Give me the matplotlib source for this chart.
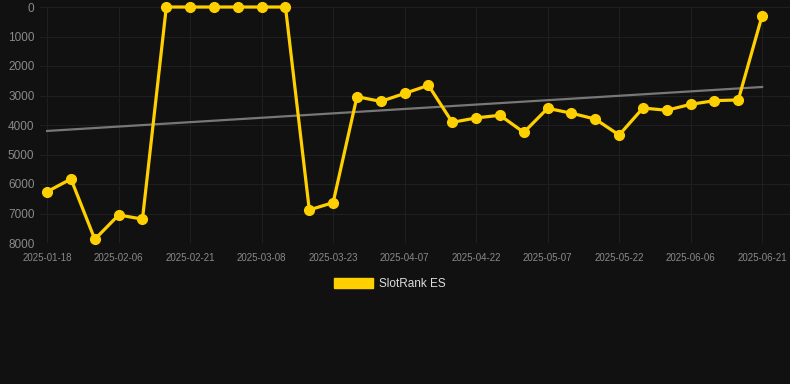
import numpy as np
import matplotlib
matplotlib.use('Agg')
import matplotlib.pyplot as plt
from matplotlib.patches import Patch

plt.rcParams['font.family'] = ['Liberation Sans', 'DejaVu Sans']

dates = ['2025-01-18', '2025-01-24', '2025-01-31', '2025-02-06', '2025-02-11',
         '2025-02-16', '2025-02-21', '2025-02-26', '2025-03-03', '2025-03-08',
         '2025-03-13', '2025-03-18', '2025-03-23', '2025-03-28', '2025-04-02',
         '2025-04-07', '2025-04-12', '2025-04-17', '2025-04-22', '2025-04-27',
         '2025-05-02', '2025-05-07', '2025-05-12', '2025-05-17', '2025-05-22',
         '2025-05-27', '2025-06-01', '2025-06-06', '2025-06-11', '2025-06-16',
         '2025-06-21']
ranks = [6260, 5830, 7875, 7050, 7190, 1, 1, 1, 1, 1, 1, 6880, 6630, 3040,
         3200, 2930, 2655, 3910, 3760, 3670, 4250, 3435, 3600, 3800, 4340,
         3425, 3500, 3300, 3175, 3150, 295]
yticks = [0, 1000, 2000, 3000, 4000, 5000, 6000, 7000, 8000]
series_name = 'SlotRank ES'

bg = '#111111'
gold = '#ffd000'

fig = plt.figure(figsize=(7.9, 3.84), dpi=100, facecolor=bg)
ax = fig.add_axes([40 / 790, 1 - 243 / 384, 750 / 790, 236 / 384], facecolor=bg)

x = np.arange(len(dates))

# trend line (least squares)
k, b = np.polyfit(x, ranks, 1)
ax.plot([x[0], x[-1]], [k * x[0] + b, k * x[-1] + b], color='#777777', lw=1.6, zorder=2)

ax.plot(x, ranks, color=gold, lw=2.3, marker='o', markersize=7,
        markerfacecolor=gold, markeredgecolor=gold, zorder=3, clip_on=False)

ax.set_ylim(8000, 0)
ax.set_xlim(-0.3, len(dates) - 1 + 1.17)
ax.set_yticks(yticks)
ax.set_yticklabels([str(v) for v in yticks])
ax.set_xticks(x[::3])
ax.set_xticklabels(dates[::3])

ax.grid(True, color='#1f1f1f', lw=0.8)
ax.set_axisbelow(True)
for s in ax.spines.values():
    s.set_visible(False)
ax.tick_params(axis='both', length=0)
ax.tick_params(axis='y', labelsize=8.5, labelcolor='#8a8a8a', pad=4)
ax.tick_params(axis='x', labelsize=7, labelcolor='#8a8a8a', pad=7)

handle = Patch(facecolor=gold, edgecolor=gold)
leg = fig.legend([handle], [series_name], loc='center',
                 bbox_to_anchor=(390 / 790, 1 - 284 / 384), frameon=False,
                 fontsize=8.5, handlelength=3.3, handleheight=0.9,
                 handletextpad=0.5, labelcolor='#dddddd')

fig.savefig('out.png', dpi=100, facecolor=bg)
